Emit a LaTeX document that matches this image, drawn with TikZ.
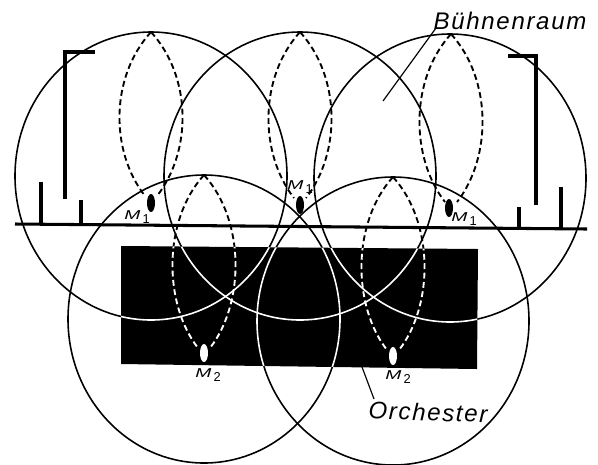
\documentclass[tikz,border=0pt]{standalone}
\usepackage{fontspec}
\newfontfamily\labelfont[LetterSpace=7]{Liberation Sans}

% sound ranges: the full ring and the narrow dashed lobe of one microphone
\newcommand{\ring}[3][]{\draw[#1] (#2,#3) ellipse [x radius=136, y radius=144];}
\newcommand{\lobe}[4][]{\draw[lobeline,#1] (#2,#3) .. controls (#2-41,#3+45) and (#2-41,#4-45) .. (#2-6,#4);
  \draw[lobeline,#1] (#2,#3) .. controls (#2+41,#3+45) and (#2+41,#4-45) .. (#2+6,#4);}
\newcommand{\micmark}[1]{\scalebox{1.5}[1]{M}\,\raisebox{-3pt}{\upshape #1}}

\tikzset{
  lobeline/.style={line width=1.6pt, dash pattern=on 5pt off 3pt},
  wallline/.style={line width=2.6pt},
  micname/.style={font=\labelfont\itshape\fontsize{11}{12}\selectfont, inner sep=0pt},
  roomname/.style={font=\labelfont\itshape\fontsize{20.5}{22}\selectfont, inner sep=0pt},
}

\begin{document}
\begin{tikzpicture}[x=0.03cm, y=-0.03cm, line width=1.35pt]
  \useasboundingbox (0,0) rectangle (598,464);

  % Orchestergraben
  \fill[black] (121,246) -- (478,249) -- (477,369) -- (121,364) -- cycle;

  % Kreise und Keulen, schwarz
  \ring{151}{176}
  \ring{300}{176}
  \ring{450}{178}
  \ring{204}{319}
  \ring{393}{321}
  \lobe{151}{32}{196}
  \lobe{300}{32}{198}
  \lobe{451}{34}{202}
  \lobe{204}{175}{348}
  \lobe{393}{177}{350}

  % dasselbe weiss, nur innerhalb des Orchesters
  \begin{scope}
    \clip (121,246) -- (478,249) -- (477,369) -- (121,364) -- cycle;
    \ring[white]{151}{176}
    \ring[white]{300}{176}
    \ring[white]{450}{178}
    \ring[white]{204}{319}
    \ring[white]{393}{321}
    \lobe[white]{204}{175}{348}
    \lobe[white]{393}{177}{350}
  \end{scope}

  % Buehnenboden und Waende
  \draw[wallline] (15,224) -- (587,229);
  \draw[wallline] (41,182) -- (41,224);
  \draw[wallline] (81,200) -- (81,224);
  \draw[wallline] (65,199) -- (65,52) -- (95,52);
  \draw[wallline] (519,207) -- (519,228);
  \draw[wallline] (561,187) -- (561,228);
  \draw[wallline] (536,205) -- (536,56) -- (508,56);

  % Mikrophone
  \fill[black] (151,203) ellipse [x radius=4, y radius=9];
  \fill[black] (300,205) ellipse [x radius=4, y radius=9];
  \fill[black] (449,208) ellipse [x radius=4, y radius=9];
  \fill[white] (204,353) ellipse [x radius=4, y radius=9];
  \fill[white] (393,356) ellipse [x radius=4, y radius=9];

  \node[micname] (M_left) at (137,217) {\micmark{1}};
  \node[micname] (M_mid) at (300,187) {\micmark{1}};
  \node[micname] (M_right) at (464,219) {\micmark{1}};
  \node[micname] (M_a) at (208,375) {\micmark{2}};
  \node[micname] (M_b) at (398,377) {\micmark{2}};

  % Beschriftung mit Hinweislinien
  \node[roomname] (buehne) at (510,21) {Bühnenraum};
  \coordinate (buehne_end) at (383,101);
  \draw[line width=1pt] (436,28) -- (buehne_end);

  \node[roomname, rotate=-2] (orchester) at (428,412) {Orchester};
  \coordinate (orchester_end) at (362,367);
  \draw[line width=1pt] (374,399) -- (orchester_end);
\end{tikzpicture}
\end{document}
